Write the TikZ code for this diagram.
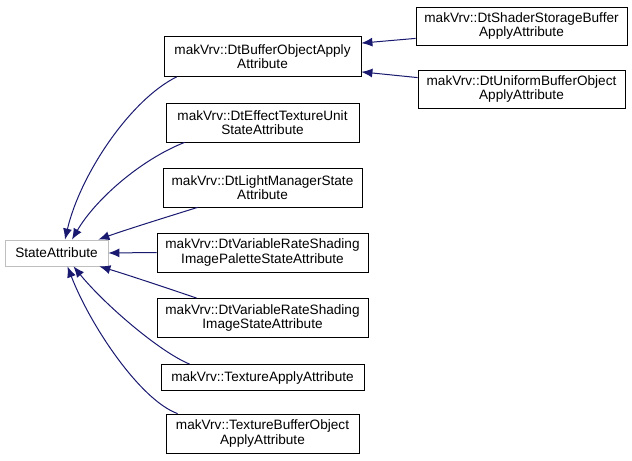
\documentclass[tikz,border=0pt]{standalone}
\usepackage{fontspec}
\setmainfont{Liberation Sans}
\usetikzlibrary{arrows.meta}
\definecolor{edgeblue}{RGB}{25,25,112}
\definecolor{graybox}{RGB}{191,191,191}
\tikzset{
  cls/.style={draw=black, line width=0.8bp, fill=white, align=center, inner sep=0pt,
    font=\fontsize{13.6bp}{14.6bp}\selectfont},
  clsgray/.style={cls, draw=graybox},
  inh/.style={draw=edgeblue, line width=1bp, -{Latex[length=11bp,width=9bp]}}
}
\begin{document}
\begin{tikzpicture}[x=1bp,y=-1bp]
\useasboundingbox (0,0) rectangle (632,461);
\node[clsgray, minimum width=103bp, minimum height=26bp] (SA) at (56.5,253) {StateAttribute};
\node[cls, minimum width=197bp, minimum height=40bp] (BO) at (262.5,56.5) {makVrv::DtBufferObjectApply\\Attribute};
\node[cls, minimum width=193bp, minimum height=39bp] (EF) at (262.5,122.5) {makVrv::DtEffectTextureUnit\\StateAttribute};
\node[cls, minimum width=199bp, minimum height=39bp] (LM) at (262.5,187.5) {makVrv::DtLightManagerState\\Attribute};
\node[cls, minimum width=211bp, minimum height=39bp] (VP) at (262.5,252.5) {makVrv::DtVariableRateShading\\ImagePaletteStateAttribute};
\node[cls, minimum width=211bp, minimum height=39bp] (VI) at (262.5,318) {makVrv::DtVariableRateShading\\ImageStateAttribute};
\node[cls, minimum width=203bp, minimum height=26bp] (TA) at (262.5,377.5) {makVrv::TextureApplyAttribute};
\node[cls, minimum width=193bp, minimum height=39bp] (TB) at (262.5,433.5) {makVrv::TextureBufferObject\\ApplyAttribute};
\node[cls, minimum width=211bp, minimum height=38bp] (SS) at (521.5,26) {makVrv::DtShaderStorageBuffer\\ApplyAttribute};
\node[cls, minimum width=207bp, minimum height=38bp] (UB) at (521.5,89) {makVrv::DtUniformBufferObject\\ApplyAttribute};

\draw[inh] ([yshift=7bp]SS.south west) -- ([yshift=-7bp]BO.north east);
\draw[inh] ([yshift=-8bp]UB.north west) -- ([yshift=5bp]BO.south east);

\draw[inh] ([xshift=13bp]BO.south west) .. controls (130,100) and (80,175) .. ([xshift=8.5bp]SA.north);
\draw[inh] ([xshift=19bp]EF.south west) .. controls (140,160) and (95,200) .. ([xshift=15.5bp]SA.north);
\draw[inh] ([xshift=35bp]LM.south west) .. controls (170,216) and (125,230) .. ([xshift=-10bp]SA.north east);
\draw[inh] (VP.west) -- (SA.east);
\draw[inh] ([xshift=40bp]VI.north west) .. controls (170,289) and (125,274) .. ([xshift=-9bp]SA.south east);
\draw[inh] ([xshift=29bp]TA.north west) .. controls (160,352) and (105,305) .. ([xshift=17bp]SA.south);
\draw[inh] ([xshift=12bp]TB.north west) .. controls (140,400) and (90,325) .. ([xshift=11bp]SA.south);
\end{tikzpicture}
\end{document}
